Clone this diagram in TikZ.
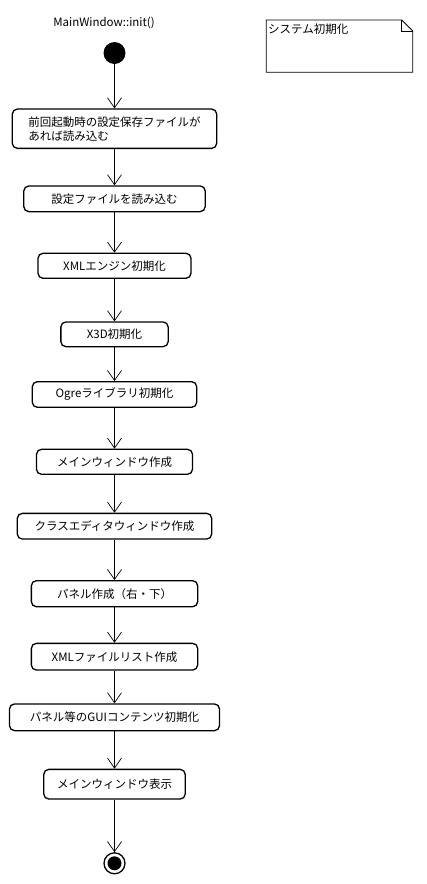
\documentclass[tikz,border=0pt]{standalone}
\usepackage{fontspec}
\setmainfont{Noto Sans CJK JP}
\usetikzlibrary{arrows.meta}
\begin{document}
\begin{tikzpicture}[x=1pt,y=-1pt,
  act/.style={draw, line width=1.3pt, rounded corners=5pt, inner sep=0pt, font=\fontsize{11.5}{14}\selectfont},
  flow/.style={line width=0.7pt, -{Straight Barb[length=10pt,width=14pt,line width=0.7pt]}},
  lbl/.style={inner sep=0pt, font=\fontsize{11.5}{14}\selectfont}]
\useasboundingbox (0,0) rectangle (427,884);
\fill[white] (0,0) rectangle (427,884);
\node[lbl] (title) at (104,23) {MainWindow::init()};
\node[circle, fill=black, minimum size=22pt, inner sep=0pt] (start) at (114.5,53) {};
\node[act, minimum width=204.4pt, minimum height=39.3pt, align=left] (b1) at (114.5,128.7) {前回起動時の設定保存ファイルが\\あれば読み込む};
\node[act, minimum width=181.4pt, minimum height=25.7pt] (b2) at (114.5,198.8) {設定ファイルを読み込む};
\node[act, minimum width=153pt, minimum height=25pt] (b3) at (114.5,265.8) {XMLエンジン初期化};
\node[act, minimum width=107.3pt, minimum height=24.7pt] (b4) at (114.5,334.3) {X3D初期化};
\node[act, minimum width=164.4pt, minimum height=25.6pt] (b5) at (114.5,394.5) {Ogreライブラリ初期化};
\node[act, minimum width=156pt, minimum height=25pt] (b6) at (114.5,461.8) {メインウィンドウ作成};
\node[act, minimum width=194.4pt, minimum height=25.7pt] (b7) at (114.5,526.2) {クラスエディタウィンドウ作成};
\node[act, minimum width=166.3pt, minimum height=26pt] (b8) at (114.5,593.7) {パネル作成（右・下）};
\node[act, minimum width=166.3pt, minimum height=26.7pt] (b9) at (114.5,656.7) {XMLファイルリスト作成};
\node[act, minimum width=210pt, minimum height=26.7pt] (b10) at (114.5,717.3) {パネル等のGUIコンテンツ初期化};
\node[act, minimum width=141.4pt, minimum height=29.7pt] (b11) at (114.5,784.2) {メインウィンドウ表示};
\node[circle, draw, line width=1.3pt, minimum size=21pt, inner sep=0pt] (end) at (114.5,863.3) {};
\fill (end.center) circle (7pt);
\draw[flow] (start) -- (b1);
\draw[flow] (b1) -- (b2);
\draw[flow] (b2) -- (b3);
\draw[flow] (b3) -- (b4);
\draw[flow] (b4) -- (b5);
\draw[flow] (b5) -- (b6);
\draw[flow] (b6) -- (b7);
\draw[flow] (b7) -- (b8);
\draw[flow] (b8) -- (b9);
\draw[flow] (b9) -- (b10);
\draw[flow] (b10) -- (b11);
\draw[flow] (b11) -- (end);
% note
\draw[line width=0.8pt] (266.3,20) -- (401.7,20) -- (412.7,31) -- (412.7,72.3) -- (266.3,72.3) -- cycle;
\draw[line width=0.8pt] (401.7,20) -- (401.7,31) -- (412.7,31);
\node[lbl, anchor=west] (note) at (268,29.5) {システム初期化};
\end{tikzpicture}
\end{document}
